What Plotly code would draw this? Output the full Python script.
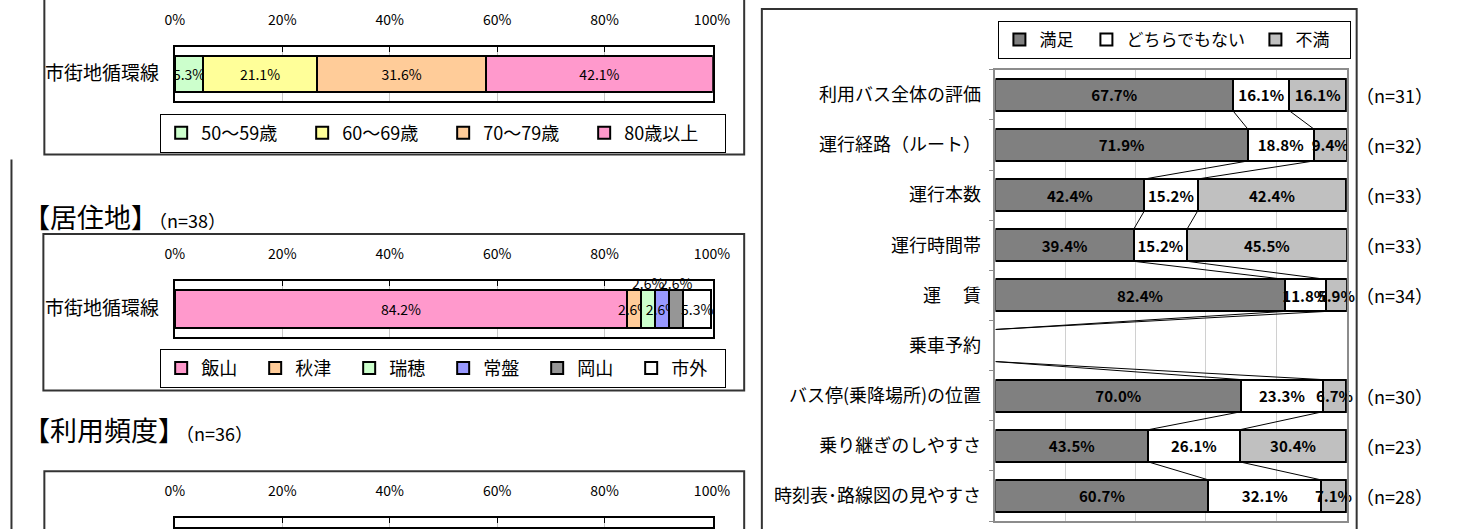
import numpy as np
import plotly.graph_objects as go

W, H = 1462, 529
FONT = "Noto Sans CJK JP"

# ---------------- data ----------------
route = ["市街地循環線"]
pct_ticks = [0, 20, 40, 60, 80, 100]
pct_labels = ["0%", "20%", "40%", "60%", "80%", "100%"]

age_groups = ["50～59歳", "60～69歳", "70～79歳", "80歳以上"]
age_values = [5.3, 21.1, 31.6, 42.1]

res_title = "【居住地】"
res_n = 38
res_groups = ["飯山", "秋津", "瑞穂", "常盤", "岡山", "市外"]
res_values = [84.2, 2.6, 2.6, 2.6, 2.6, 5.3]

freq_title = "【利用頻度】"
freq_n = 36

sat_items = ["利用バス全体の評価", "運行経路（ルート）", "運行本数", "運行時間帯", "運　 賃",
             "乗車予約", "バス停(乗降場所)の位置", "乗り継ぎのしやすさ", "時刻表･路線図の見やすさ"]
sat_levels = ["満足", "どちらでもない", "不満"]
sat_satisfied = [67.7, 71.9, 42.4, 39.4, 82.4, None, 70.0, 43.5, 60.7]
sat_neutral = [16.1, 18.8, 15.2, 15.2, 11.8, None, 23.3, 26.1, 32.1]
sat_dissatisfied = [16.1, 9.4, 42.4, 45.5, 5.9, None, 6.7, 30.4, 7.1]
sat_n = [31, 32, 33, 33, 34, None, 30, 23, 28]

# ---------------- style ----------------
age_colors = ["#CCFFCC", "#FFFF99", "#FFCC99", "#FF99CC"]
res_colors = ["#FF99CC", "#FFCC99", "#CCFFCC", "#9999FF", "#969696", "#FFFFFF"]
res_raised = {"瑞穂", "岡山"}          # labels that Excel pushed above the bar
sat_colors = ["#808080", "#FFFFFF", "#C0C0C0"]
sat_legendwidth = [42, 124, 50]
XMAX = 100.15   # a hair above 100 so rounded totals (100.1) stay inside the axis


def px(x):
    return x / W


def py(y):
    return 1 - y / H


fig = go.Figure()

bar_common = dict(orientation="h", textposition="inside", insidetextanchor="middle",
                  textangle=0, constraintext="none", cliponaxis=False, hoverinfo="skip")

# ---- age chart ----
for g, v, c in zip(age_groups, age_values, age_colors):
    fig.add_trace(go.Bar(
        x=[v], y=route, name=g, width=0.667,
        marker=dict(color=c, line=dict(color="black", width=2)),
        texttemplate="%{x:.1f}%",
        insidetextfont=dict(family=FONT, size=14, color="black"),
        xaxis="x", yaxis="y", legend="legend", **bar_common))

# ---- residence chart ----
cum = np.cumsum(res_values)
for g, v, c, e in zip(res_groups, res_values, res_colors, cum):
    raised = g in res_raised
    fig.add_trace(go.Bar(
        x=[v], y=route, name=g, width=0.68,
        marker=dict(color=c, line=dict(color="black", width=2)),
        texttemplate="" if raised else "%{x:.1f}%",
        insidetextfont=dict(family=FONT, size=14, color="black"),
        xaxis="x2", yaxis="y2", legend="legend2", **bar_common))
    if raised:
        fig.add_annotation(x=e - v / 2, y=route[0], xref="x2", yref="y2", yshift=26,
                           text=f"{v:.1f}%", showarrow=False,
                           font=dict(family=FONT, size=14, color="black"))

# ---- frequency chart (only the axis is visible) ----
fig.add_trace(go.Scatter(x=[None], y=[None], xaxis="x3", yaxis="y3",
                         showlegend=False, hoverinfo="skip"))

# ---- satisfaction chart ----
sat_series = [sat_satisfied, sat_neutral, sat_dissatisfied]
rows = list(range(len(sat_items)))
for lvl, vals, c, lw in zip(sat_levels, sat_series, sat_colors, sat_legendwidth):
    fig.add_trace(go.Bar(
        x=vals, y=rows, name=lvl, width=0.64,
        marker=dict(color=c, line=dict(color="black", width=2)),
        texttemplate="<b>%{x:.1f}%</b>",
        insidetextfont=dict(family=FONT, size=15, color="black"),
        xaxis="x4", yaxis="y4", legend="legend3", legendwidth=lw, **bar_common))

# series lines (Excel-style) joining the cumulative boundaries of adjacent bars
arr = np.nan_to_num(np.array(sat_series, dtype=float))
cums = np.cumsum(arr, axis=0)
half = 0.32
lx, ly = [], []
for k in range(2):
    for i in range(len(rows) - 1):
        lx += [cums[k, i], cums[k, i + 1], None]
        ly += [rows[i] + half, rows[i + 1] - half, None]
fig.add_trace(go.Scatter(x=lx, y=ly, mode="lines", line=dict(color="black", width=1),
                         xaxis="x4", yaxis="y4", showlegend=False, hoverinfo="skip"))

for r, n in zip(rows, sat_n):
    if n is not None:
        fig.add_annotation(x=px(1369), y=r, xref="paper", yref="y4", xanchor="left",
                           text=f"（n={n}）", showarrow=False,
                           font=dict(family=FONT, size=18, color="black"))

# ---------------- axes ----------------
def pct_xaxis(domain, anchor):
    return dict(domain=domain, anchor=anchor, range=[0, XMAX], side="top",
                tickvals=pct_ticks, ticktext=pct_labels, ticks="inside", ticklen=5,
                tickcolor="black", tickwidth=1, ticklabelstandoff=14,
                tickfont=dict(family=FONT, size=14, color="black"),
                showgrid=True, gridcolor="#C8C8C8", gridwidth=1, zeroline=False,
                showline=True, linecolor="black", linewidth=2, mirror=True, fixedrange=True)


def route_yaxis(domain, anchor):
    return dict(domain=domain, anchor=anchor, type="category", range=[-0.5, 0.5],
                ticks="", ticklabelstandoff=10,
                tickfont=dict(family=FONT, size=19, color="black"),
                showline=True, linecolor="black", linewidth=2, mirror=True,
                showgrid=False, fixedrange=True)


fig.update_layout(
    xaxis=pct_xaxis([px(168), px(716)], "y"),
    yaxis=route_yaxis([py(101), py(47)], "x"),
    xaxis2=pct_xaxis([px(168), px(716)], "y2"),
    yaxis2=route_yaxis([py(338), py(282)], "x2"),
    xaxis3=pct_xaxis([px(168), px(716)], "y3"),
    yaxis3=dict(domain=[0, py(520)], anchor="x3", range=[0, 1], showticklabels=False,
                ticks="", showgrid=False, zeroline=False, showline=True,
                linecolor="black", linewidth=2, mirror=True, fixedrange=True),
    xaxis4=dict(domain=[px(1004), px(1362)], anchor="y4", range=[0, XMAX],
                tickvals=pct_ticks, showticklabels=False, ticks="",
                showgrid=True, gridcolor="#D0D0D0", gridwidth=1, zeroline=False,
                showline=True, linecolor="#8C8C8C", linewidth=1.5, mirror=True,
                fixedrange=True),
    yaxis4=dict(domain=[py(523), py(70)], anchor="x4", range=[len(rows) - 0.5, -0.5],
                tickvals=rows, ticktext=sat_items, ticks="", ticklabelstandoff=9,
                tickfont=dict(family=FONT, size=18, color="black"),
                minor=dict(tickmode="array", tickvals=[r - 0.5 for r in rows] + [rows[-1] + 0.5],
                           ticks="outside", ticklen=5, tickcolor="#8C8C8C", showgrid=False),
                showgrid=False, zeroline=False, showline=True, linecolor="#8C8C8C",
                linewidth=1.5, mirror=True, fixedrange=True),
)
fig.update_xaxes(layer="above traces")
fig.update_yaxes(layer="above traces")

leg_common = dict(orientation="h", xanchor="left", yanchor="top", bgcolor="white",
                  bordercolor="black", borderwidth=1, traceorder="normal",
                  entrywidthmode="pixels")
fig.update_layout(
    legend=dict(x=px(153), y=py(114), entrywidth=96,
                font=dict(family=FONT, size=18, color="black"), **leg_common),
    legend2=dict(x=px(153), y=py(350), entrywidth=49,
                 font=dict(family=FONT, size=18, color="black"), **leg_common),
    legend3=dict(x=px(1007), y=py(21),
                 font=dict(family=FONT, size=17, color="black"), **leg_common),
)

# ---------------- frames & titles ----------------
frame = dict(type="rect", xref="paper", yref="paper", line=dict(color="#333333", width=2),
             fillcolor="rgba(0,0,0,0)", layer="below")
for x0, y0, x1, y1 in [(35, -10, 748, 155), (34, 235, 748, 392), (35, 473, 748, 540),
                       (766, 9, 1372, 540)]:
    fig.add_shape(x0=px(x0), x1=px(x1), y0=py(y1), y1=py(y0), **frame)
fig.add_shape(type="line", xref="paper", yref="paper", x0=px(1.5), x1=px(1.5), y0=py(160), y1=py(540),
              line=dict(color="#333333", width=2))

for title, n, y in [(res_title, res_n, 217), (freq_title, freq_n, 453)]:
    fig.add_annotation(x=px(11), y=py(y), xref="paper", yref="paper", xanchor="left",
                       showarrow=False,
                       text=f"{title}<span style='font-size:18px'>（n={n}）</span>",
                       font=dict(family=FONT, size=27, color="black"))

fig.update_layout(
    width=W, height=H, margin=dict(l=0, r=0, t=0, b=0),
    paper_bgcolor="white", plot_bgcolor="white", barmode="stack",
    font=dict(family=FONT, color="black"),
)

fig.write_html("out.html", config={"displayModeBar": False},
               post_script="document.body.style.margin='0';document.body.style.overflow='hidden';")
